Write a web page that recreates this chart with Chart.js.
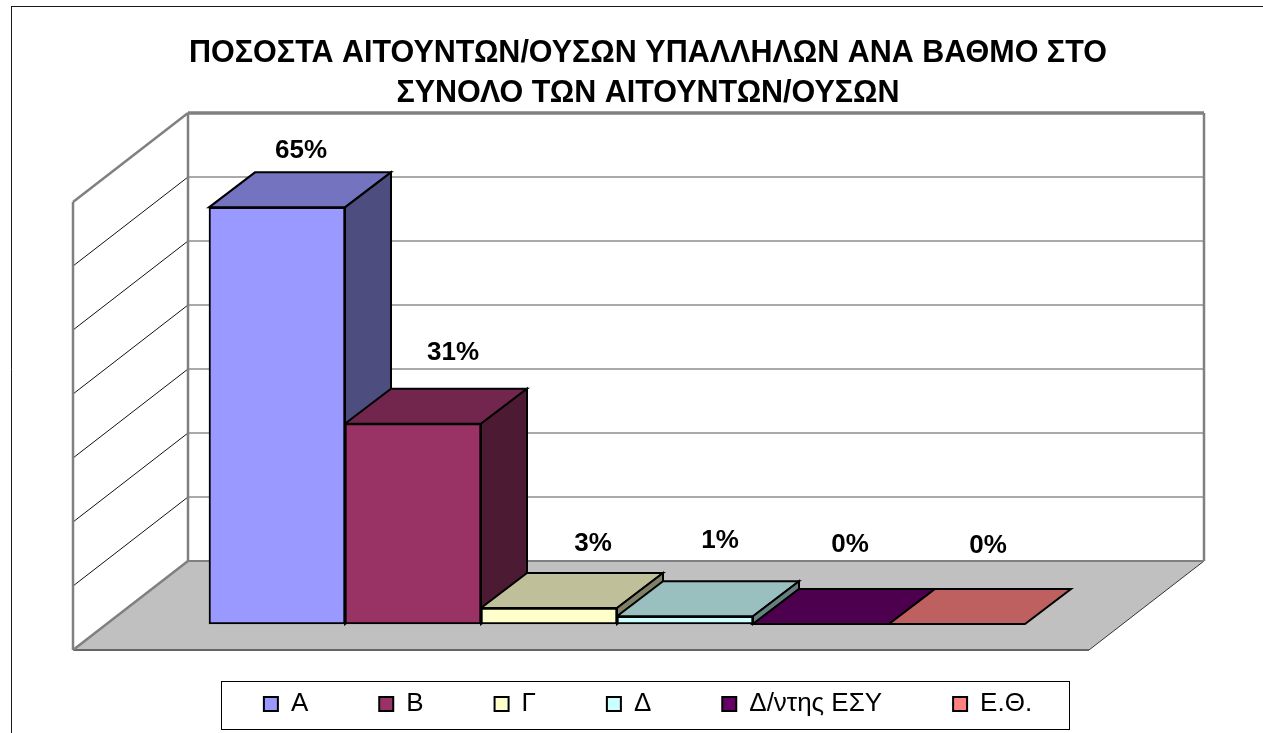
<!DOCTYPE html>
<html>
<head>
<meta charset="utf-8">
<title>Ποσοστά αιτούντων/ουσών υπαλλήλων ανά βαθμό</title>
<script src="https://cdn.jsdelivr.net/npm/chart.js@4"></script>
<style>
  html, body { margin: 0; padding: 0; background: #fff; overflow: hidden; }
  canvas { display: block; }
</style>
</head>
<body>
<canvas id="chart" width="1263" height="733"></canvas>
<script>
  // Data
  const titleLines = ['ΠΟΣΟΣΤΑ ΑΙΤΟΥΝΤΩΝ/ΟΥΣΩΝ ΥΠΑΛΛΗΛΩΝ ΑΝΑ ΒΑΘΜΟ ΣΤΟ', 'ΣΥΝΟΛΟ ΤΩΝ ΑΙΤΟΥΝΤΩΝ/ΟΥΣΩΝ'];
  const grades = ['Α', 'Β', 'Γ', 'Δ', 'Δ/ντης ΕΣΥ', 'Ε.Θ.'];
  const shares = [65.1, 31.3, 2.5, 1.2, 0, 0];
  const colors = ['#9999ff', '#993366', '#ffffcc', '#ccffff', '#660066', '#ff8080'];

  // Pseudo 3D geometry, as offsets from the plane the bar fronts sit on
  const FLOOR_FRONT = { dx: -33.6, dy: 26 };
  const FLOOR_BACK = { dx: 81.4, dy: -63 };
  const BAR_DEPTH = { dx: 46, dy: -35 };
  const PLANE_MARGIN = { left: 102.4, right: 97.6 };
  // Excel placed each data label by its own rules, offset from the bar's front top centre
  const LABEL_OFFSET = [[24, -57], [40, -71], [44, -64], [35, -75], [29, -79], [31, -78]];

  function shade(hex, k) {
    const n = parseInt(hex.slice(1), 16);
    const c = [n >> 16, (n >> 8) & 255, n & 255].map(v => Math.round(v * k));
    return `rgb(${c[0]},${c[1]},${c[2]})`;
  }

  function poly(ctx, pts, fill, stroke, width) {
    ctx.beginPath();
    pts.forEach((p, i) => (i ? ctx.lineTo(p[0], p[1]) : ctx.moveTo(p[0], p[1])));
    ctx.closePath();
    if (fill) { ctx.fillStyle = fill; ctx.fill(); }
    if (stroke) { ctx.strokeStyle = stroke; ctx.lineWidth = width; ctx.lineJoin = 'miter'; ctx.stroke(); }
  }

  function line(ctx, x1, y1, x2, y2, color, width) {
    ctx.beginPath();
    ctx.moveTo(x1, y1);
    ctx.lineTo(x2, y2);
    ctx.strokeStyle = color;
    ctx.lineWidth = width;
    ctx.stroke();
  }

  const box3d = {
    id: 'box3d',
    afterLayout(chart) {
      // the legend's row padding is also its column gap, pull it up to the frame
      chart.legend.top -= 4;
    },
    beforeDatasetsDraw(chart) {
      const { ctx, scales: { y }, chartArea: area } = chart;
      const base = y.getPixelForValue(0);
      const left = area.left - PLANE_MARGIN.left;
      const right = area.right + PLANE_MARGIN.right;
      const fl = left + FLOOR_FRONT.dx, fr = right + FLOOR_FRONT.dx;
      const bl = left + FLOOR_BACK.dx, br = right + FLOOR_BACK.dx;
      const fy = v => y.getPixelForValue(v) + FLOOR_FRONT.dy;
      const by = v => y.getPixelForValue(v) + FLOOR_BACK.dy;

      ctx.save();
      // outer chart frame, only left and top edges fall inside the picture
      line(ctx, 11.5, 6.5, 11.5, chart.height, '#1a1a1a', 1);
      line(ctx, 11, 6.5, chart.width, 6.5, '#1a1a1a', 1);

      // floor
      poly(ctx, [[fl, base + FLOOR_FRONT.dy], [fr, base + FLOOR_FRONT.dy], [br, base + FLOOR_BACK.dy], [bl, base + FLOOR_BACK.dy]], '#c0c0c0');
      line(ctx, fr, base + FLOOR_FRONT.dy, br, base + FLOOR_BACK.dy, '#333', 1);
      line(ctx, bl, base + FLOOR_BACK.dy, br, base + FLOOR_BACK.dy, '#808080', 2);
      line(ctx, fl, base + FLOOR_FRONT.dy, fr, base + FLOOR_FRONT.dy, '#666', 2);

      // gridlines on both walls, from the value axis
      y.ticks.forEach(t => {
        if (t.value === 0 || t.value === y.max) return;
        line(ctx, bl, by(t.value), br, by(t.value), '#555', 1);
        line(ctx, fl, fy(t.value), bl, by(t.value), '#111', 1);
      });

      // wall edges
      line(ctx, fl, fy(y.max), fl, fy(0), '#808080', 2.5);
      line(ctx, fl, fy(y.max), bl, by(y.max), '#808080', 2.5);
      line(ctx, fl, fy(0), bl, by(0), '#808080', 2.5);
      line(ctx, bl, by(y.max), bl, by(0), '#808080', 2.5);
      line(ctx, br, by(y.max), br, by(0), '#808080', 2.5);
      line(ctx, bl, by(y.max), br, by(y.max), '#808080', 3.5);

      // top and side faces, left to right so later bars cover earlier sides
      chart.getSortedVisibleDatasetMetas().slice().sort((a, b) => a.index - b.index).forEach(meta => {
        const bar = meta.data[0];
        const x0 = bar.x - bar.width / 2, x1 = bar.x + bar.width / 2;
        const yt = bar.y, yb = bar.base;
        const d = BAR_DEPTH;
        const c = colors[meta.index];
        poly(ctx, [[x0, yt], [x1, yt], [x1 + d.dx, yt + d.dy], [x0 + d.dx, yt + d.dy]], shade(c, 0.75), '#000', 2);
        if (yb - yt > 0.5) {
          poly(ctx, [[x1, yt], [x1 + d.dx, yt + d.dy], [x1 + d.dx, yb + d.dy], [x1, yb]], shade(c, 0.5), '#000', 2);
        }
      });
      ctx.restore();
    },
    afterDraw(chart) {
      const { ctx } = chart;
      ctx.save();
      // value labels
      ctx.font = 'bold 26px "Liberation Sans", Arial, sans-serif';
      ctx.fillStyle = '#000';
      ctx.textAlign = 'center';
      ctx.textBaseline = 'middle';
      chart.data.datasets.forEach((ds, i) => {
        const bar = chart.getDatasetMeta(i).data[0];
        ctx.fillText(`${Math.round(ds.data[0])}%`, bar.x + LABEL_OFFSET[i][0], bar.y + LABEL_OFFSET[i][1]);
      });
      // frame round the legend
      const hit = chart.legend.legendHitBoxes;
      const last = hit[hit.length - 1];
      const fx0 = Math.round(hit[0].left) - 42.5;
      const fx1 = Math.round(last.left + last.width) + 37.5;
      const fy0 = chart.legend.top + 61.5;
      ctx.strokeStyle = '#000';
      ctx.lineWidth = 1;
      ctx.strokeRect(fx0, fy0, fx1 - fx0, 48);
      ctx.restore();
    }
  };

  new Chart(document.getElementById('chart'), {
    type: 'bar',
    plugins: [box3d],
    data: {
      labels: [''],
      datasets: grades.map((g, i) => ({
        label: g,
        data: [shares[i]],
        backgroundColor: colors[i],
        borderColor: '#000',
        borderWidth: 2,
        borderSkipped: false,
        clip: false
      }))
    },
    options: {
      responsive: false,
      animation: false,
      categoryPercentage: 1,
      barPercentage: 1,
      layout: { padding: { left: 33, top: 0, right: 0, bottom: 2 } },
      scales: {
        x: { display: false },
        y: {
          min: 0,
          max: 70,
          ticks: { display: false, stepSize: 10 },
          grid: { display: false },
          border: { display: false },
          afterFit: s => { s.width = 176; }
        },
        // empty axis, only keeps the plot clear of the right side
        yRight: {
          position: 'right',
          ticks: { display: false },
          grid: { display: false },
          border: { display: false },
          afterFit: s => { s.width = 238; }
        }
      },
      plugins: {
        title: {
          display: true,
          text: titleLines,
          color: '#000',
          font: { family: '"Liberation Sans", Arial, sans-serif', size: 30.5, weight: 'bold', lineHeight: 1.3 },
          padding: { top: 34, bottom: 62.7 }
        },
        legend: {
          position: 'bottom',
          maxHeight: 109,
          labels: {
            color: '#000',
            font: { family: '"Liberation Sans", Arial, sans-serif', size: 26 },
            boxWidth: 14,
            boxHeight: 14,
            padding: 71
          }
        },
        tooltip: { enabled: false }
      }
    }
  });
</script>
</body>
</html>
